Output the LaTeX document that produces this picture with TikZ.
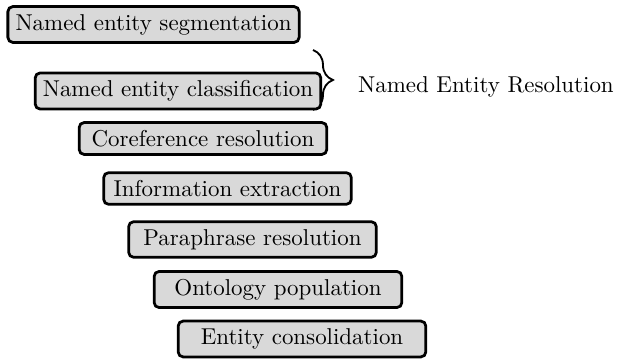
\documentclass[tikz,border=0pt]{standalone}
\usetikzlibrary{decorations.pathreplacing}
\tikzset{
  taskbox/.style={draw=black, very thick, fill=black!15, rounded corners=2.2pt, minimum width=108pt, inner sep=0.3333em},
  bracestyle/.style={thick, decorate, decoration={brace, amplitude=8.7pt}}
}
\begin{document}
\begin{tikzpicture}[x=0.436pt, y=-0.436pt]
\useasboundingbox (0,0) rectangle (617,359);
\coordinate (bt) at (313,50);
\coordinate (bb) at (313,110);
\draw[bracestyle] (bt) -- (bb);
\node[taskbox] (seg) at (153.5,24.5) {Named entity segmentation};
\node[taskbox] (cls) at (178,91) {Named entity classification};
\node[taskbox] (coref) at (203,138.5) {Coreference resolution};
\node[taskbox] (ie) at (227.5,188.5) {Information extraction};
\node[taskbox] (para) at (252.5,239.5) {Paraphrase resolution};
\node[taskbox] (onto) at (278,289.5) {Ontology population};
\node[taskbox] (cons) at (302,339) {Entity consolidation};
\node[anchor=west] (ner) at (350,86.5) {Named Entity Resolution};
\end{tikzpicture}
\end{document}
